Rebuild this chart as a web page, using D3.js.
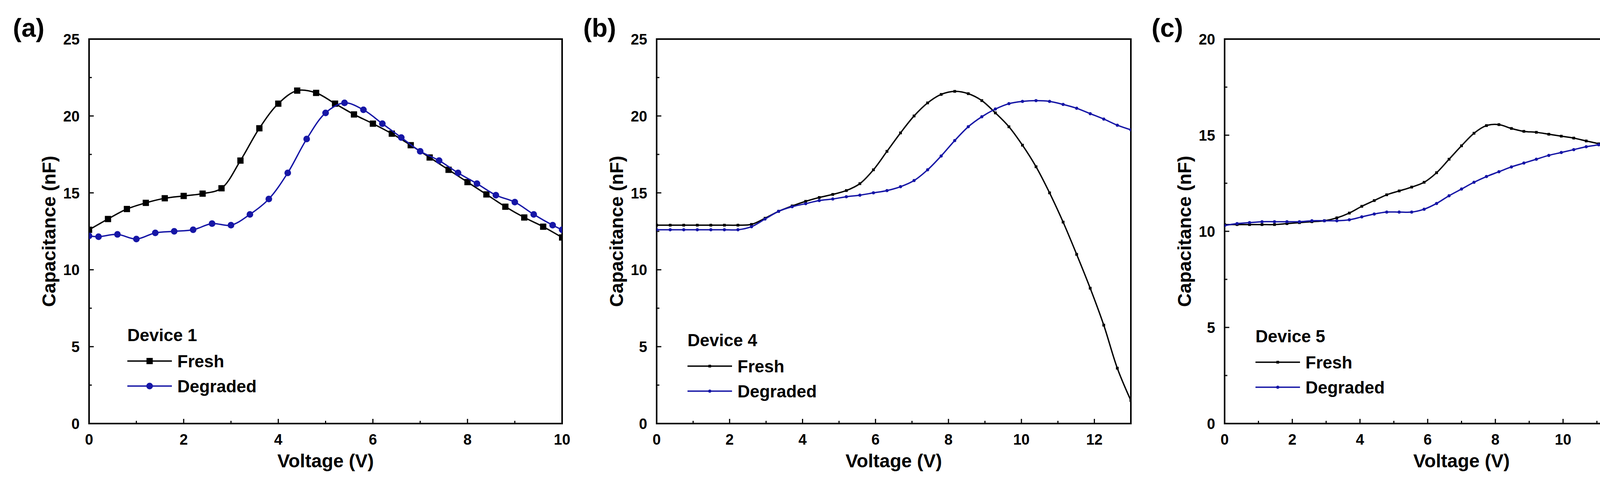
<!DOCTYPE html>
<html>
<head>
<meta charset="utf-8">
<script src="https://cdn.jsdelivr.net/npm/d3@7"></script>
<style>
  body { margin: 0; background: #fff; }
  text { font-family: "Liberation Sans", Arial, sans-serif; font-weight: bold; fill: #000; }
</style>
</head>
<body>
<svg id="chart" width="4390" height="1231"></svg>
<script>
// ---- data ----
const aFreshX = [0,0.4,0.8,1.2,1.6,2.0,2.4,2.8,3.2,3.6,4.0,4.4,4.8,5.2,5.6,6.0,6.4,6.8,7.2,7.6,8.0,8.4,8.8,9.2,9.6,10];
const aFreshY = [12.6,13.3,13.95,14.35,14.65,14.8,14.95,15.3,17.1,19.2,20.8,21.65,21.5,20.8,20.1,19.5,18.85,18.1,17.3,16.5,15.7,14.9,14.1,13.4,12.8,12.1];
const aDegX = [0,0.2,0.6,1.0,1.4,1.8,2.2,2.6,3.0,3.4,3.8,4.2,4.6,5.0,5.4,5.8,6.2,6.6,7.0,7.4,7.8,8.2,8.6,9.0,9.4,9.8,10];
const aDegY = [12.2,12.15,12.3,12.0,12.4,12.5,12.6,13.0,12.9,13.6,14.6,16.3,18.5,20.2,20.85,20.4,19.5,18.6,17.7,17.1,16.3,15.6,14.85,14.4,13.6,12.9,12.6];

const bX = d3.range(36).map(i => i * 13 / 35);
const bFreshY = [12.9,12.9,12.9,12.9,12.9,12.9,12.9,12.95,13.35,13.8,14.15,14.45,14.7,14.9,15.15,15.6,16.5,17.7,18.9,20.0,20.85,21.4,21.6,21.45,21.0,20.2,19.3,18.1,16.7,15.0,13.1,11.0,8.8,6.4,3.6,1.5];
const bDegY = [12.6,12.6,12.6,12.6,12.6,12.6,12.6,12.8,13.3,13.8,14.1,14.3,14.5,14.6,14.75,14.85,15.0,15.15,15.4,15.8,16.5,17.4,18.4,19.3,19.95,20.45,20.8,20.95,21.0,20.95,20.75,20.5,20.15,19.8,19.4,19.1];

const cX = d3.range(39).map(i => i * 14 / 38);
const cFreshY = [10.35,10.35,10.35,10.35,10.35,10.4,10.45,10.5,10.55,10.7,10.95,11.3,11.6,11.9,12.1,12.3,12.55,13.05,13.75,14.45,15.1,15.5,15.55,15.35,15.2,15.15,15.05,14.95,14.85,14.7,14.55,14.3,14.0,13.7,13.35,12.95,12.6,12.2,12.0];
const cDegY = [10.3,10.4,10.45,10.5,10.5,10.5,10.5,10.55,10.55,10.55,10.6,10.75,10.9,11.0,11.0,11.0,11.15,11.45,11.85,12.2,12.55,12.85,13.1,13.35,13.55,13.75,13.95,14.1,14.25,14.4,14.5,14.6,14.65,14.7,14.7,14.7,14.65,14.55,14.4];

const aXTicks = [0,2,4,6,8,10], bXTicks = [0,2,4,6,8,10,12], cXTicks = [0,2,4,6,8,10,12,14];
const abYTicks = [0,5,10,15,20,25], cYTicks = [0,5,10,15,20];
const seriesNames = ["Fresh", "Degraded"];
const BLUE = "#1616a6";

const panels = [
  { label: "(a)", device: "Device 1", left: 228, right: 1439, xMax: 10, yMax: 25, xTicks: aXTicks, yTicks: abYTicks,
    fresh: [aFreshX, aFreshY], deg: [aDegX, aDegY], big: true, labelX: 33, legendDx: 98, legendY: 873 },
  { label: "(b)", device: "Device 4", left: 1681, right: 2895, xMax: 13, yMax: 25, xTicks: bXTicks, yTicks: abYTicks,
    fresh: [bX, bFreshY], deg: [bX, bDegY], big: false, labelX: 1493, legendDx: 79, legendY: 886 },
  { label: "(c)", device: "Device 5", left: 3135, right: 4348, xMax: 14, yMax: 20, xTicks: cXTicks, yTicks: cYTicks,
    fresh: [cX, cFreshY], deg: [cX, cDegY], big: false, labelX: 2948, legendDx: 79, legendY: 876 }
];

const svg = d3.select("#chart");
const plotTop = 100, plotBottom = 1084;

panels.forEach(p => {
  const x = d3.scaleLinear().domain([0, p.xMax]).range([p.left, p.right]);
  const y = d3.scaleLinear().domain([0, p.yMax]).range([plotBottom, plotTop]);
  const g = svg.append("g");

  // frame
  g.append("rect").attr("x", p.left).attr("y", plotTop).attr("width", p.right - p.left).attr("height", plotBottom - plotTop)
    .attr("fill", "none").attr("stroke", "#000").attr("stroke-width", 4);

  // ticks (inside)
  const minorX = d3.range(1, p.xMax, 2);
  g.selectAll(".xt").data(p.xTicks).join("line").attr("x1", d => x(d)).attr("x2", d => x(d))
    .attr("y1", plotBottom).attr("y2", plotBottom - 12).attr("stroke", "#000").attr("stroke-width", 3);
  g.selectAll(".xm").data(minorX).join("line").attr("x1", d => x(d)).attr("x2", d => x(d))
    .attr("y1", plotBottom).attr("y2", plotBottom - 7).attr("stroke", "#000").attr("stroke-width", 3);
  const minorY = p.yTicks.slice(0, -1).map(d => d + 2.5);
  g.selectAll(".yt").data(p.yTicks).join("line").attr("x1", p.left).attr("x2", p.left + 12)
    .attr("y1", d => y(d)).attr("y2", d => y(d)).attr("stroke", "#000").attr("stroke-width", 3);
  g.selectAll(".ym").data(minorY).join("line").attr("x1", p.left).attr("x2", p.left + 7)
    .attr("y1", d => y(d)).attr("y2", d => y(d)).attr("stroke", "#000").attr("stroke-width", 3);

  g.selectAll(".xl").data(p.xTicks).join("text").attr("x", d => x(d)).attr("y", 1138)
    .attr("text-anchor", "middle").attr("font-size", 38).text(d => d);
  g.selectAll(".yl").data(p.yTicks).join("text").attr("x", p.left - 24).attr("y", d => y(d) + 14)
    .attr("text-anchor", "end").attr("font-size", 38).text(d => d);

  // titles
  g.append("text").attr("x", (p.left + p.right) / 2).attr("y", 1196).attr("text-anchor", "middle")
    .attr("font-size", 48).text("Voltage (V)");
  g.append("text").attr("transform", `translate(${p.left - 86},${(plotTop + plotBottom) / 2}) rotate(-90)`)
    .attr("text-anchor", "middle").attr("font-size", 48).text("Capacitance (nF)");
  g.append("text").attr("x", p.labelX).attr("y", 94).attr("font-size", 66).text(p.label);

  // curves
  const line = d3.line().x(d => x(d[0])).y(d => y(d[1])).curve(d3.curveCatmullRom.alpha(0.5));
  const series = [
    { xs: p.fresh[0], ys: p.fresh[1], color: "#000", sym: "square" },
    { xs: p.deg[0], ys: p.deg[1], color: BLUE, sym: "circle" }
  ];
  const clip = "clip" + p.label.replace(/\W/g, "");
  svg.append("clipPath").attr("id", clip).append("rect")
    .attr("x", p.left).attr("y", plotTop).attr("width", p.right - p.left).attr("height", plotBottom - plotTop);

  const drawMarker = (sel, s, cx, cy) => {
    if (s.sym === "square") {
      const h = p.big ? 8 : 3.5;
      sel.append("rect").attr("x", cx - h).attr("y", cy - h).attr("width", 2 * h).attr("height", 2 * h).attr("fill", s.color);
    } else {
      sel.append("circle").attr("cx", cx).attr("cy", cy).attr("r", p.big ? 8.5 : 4).attr("fill", s.color);
    }
  };

  series.forEach(s => {
    const pts = s.xs.map((v, i) => [v, s.ys[i]]);
    const sg = g.append("g").attr("clip-path", `url(#${clip})`);
    sg.append("path").datum(pts).attr("d", line).attr("fill", "none").attr("stroke", s.color).attr("stroke-width", 3.5);
    pts.forEach(d => drawMarker(sg, s, x(d[0]), y(d[1])));
  });

  // legend
  const lx = p.left + p.legendDx;
  g.append("text").attr("x", lx).attr("y", p.legendY).attr("font-size", 44).text(p.device);
  series.forEach((s, i) => {
    const ly = p.legendY + 66 + i * 64 - 15;
    g.append("line").attr("x1", lx).attr("x2", lx + 114).attr("y1", ly).attr("y2", ly)
      .attr("stroke", s.color).attr("stroke-width", 3.5);
    drawMarker(g, s, lx + 57, ly);
    g.append("text").attr("x", lx + 128).attr("y", ly + 16).attr("font-size", 44).text(seriesNames[i]);
  });
});
</script>
</body>
</html>
